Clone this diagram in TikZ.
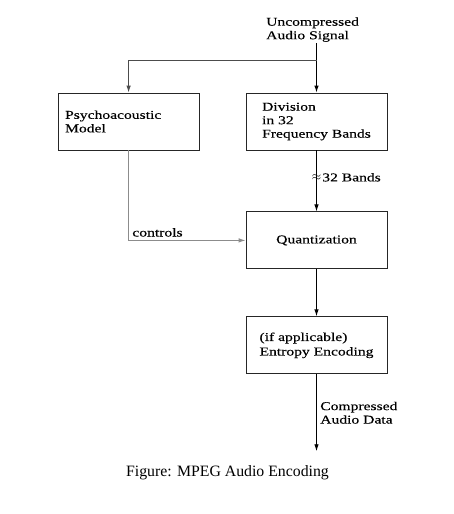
\documentclass[tikz,border=0pt]{standalone}
\usepackage{fontspec}
\setmainfont{Liberation Serif}
\newfontfamily\diagfont[FakeStretch=1.3,FakeBold=0.3]{Liberation Serif}
\usetikzlibrary{positioning,arrows.meta}

\begin{document}
\begin{tikzpicture}[
        x=1pt, y=1pt,
        font=\diagfont\fontsize{12}{13.5}\selectfont,
        box/.style={draw=black!85, line width=0.9pt, align=left, minimum width=141pt, minimum height=57pt},
        flow/.style={->, line width=0.9pt},
        >={Latex[length=7pt,width=4.5pt]}, node distance=46pt and 46pt
    ]
        \useasboundingbox (0,0) rectangle (454,-514);
        \node[box] (div) at (316.5,-121.5) {Division\\in 32\\Frequency Bands};
        \node[box, text width=127pt, inner xsep=7pt, left=of div] (psy) {Psychoacoustic\\Model};
        \node[box, below=61pt of div, align=center] (quant) {Quantization};
        \node[box, below=47pt of quant] (ent) {(if applicable)\\[1pt]Entropy Encoding};
        \node[align=left, anchor=south west, inner sep=1pt] (insig) at (265,-43) {Uncompressed\\Audio Signal};
        \coordinate[above=32pt of div.north] (split);
        \coordinate[below=77pt of ent.south] (out);
        \node[font=\fontsize{15.8}{18}\selectfont] (cap) at (227.5,-473) {Figure: MPEG Audio Encoding};
        \draw[flow] (insig.south -| div.north) -- (div);
        \draw[flow, black!70] (split) -| (psy);
        \draw[flow] (div) -- node[pos=0.44, inner sep=0pt, font=\fontsize{13}{13}\selectfont] {$\approx$}
            node[pos=0.44, right=2pt] {32 Bands} (quant);
        \draw[flow, black!45] (psy) |- node[pos=0.5, above right, text=black] {controls} (quant);
        \draw[flow] (quant) -- (ent);
        \draw[flow] (ent) -- node[right, align=left] {Compressed\\Audio Data} (out);
    \end{tikzpicture}
\end{document}
